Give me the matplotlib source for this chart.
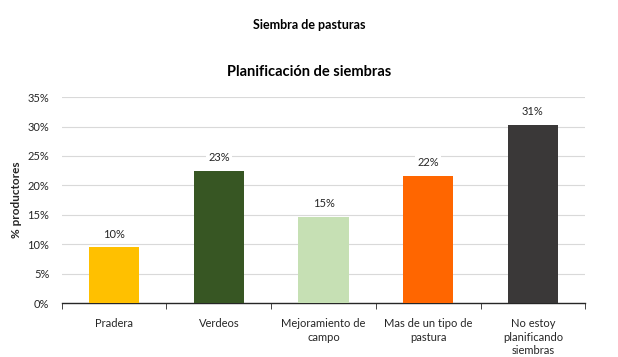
import numpy as np
import matplotlib.pyplot as plt
from matplotlib.ticker import PercentFormatter, FixedLocator

plt.rcParams['font.family'] = ['Lato', 'DejaVu Sans']

# data
categorias = ["Pradera", "Verdeos", "Mejoramiento de\ncampo",
              "Mas de un tipo de\npastura", "No estoy\nplanificando\nsiembras"]
valores = [9.5, 22.5, 14.7, 21.6, 30.3]
etiquetas = ["10%", "23%", "15%", "22%", "31%"]
colores = ["#FFC000", "#375623", "#C6E0B4", "#FF6600", "#3A3838"]

fig = plt.figure(figsize=(6.18, 3.57), dpi=100)
ax = fig.add_axes([0.100, 0.151, 0.847, 0.577])

x = np.arange(len(categorias))
bars = ax.bar(x, valores, width=0.48, color=colores, zorder=3)

for b, lab in zip(bars, etiquetas):
    ax.text(b.get_x() + b.get_width() / 2, b.get_height() + 1.3, lab,
            ha="center", va="bottom", fontsize=8, color="#262626",
            bbox=dict(facecolor="white", edgecolor="none", pad=1.5), zorder=4)

ax.set_xlim(-0.5, len(categorias) - 0.5)
ax.set_ylim(0, 35)
ax.set_yticks(np.arange(0, 36, 5))
ax.yaxis.set_major_formatter(PercentFormatter(decimals=0))
ax.grid(axis="y", color="#D9D9D9", linewidth=0.8, zorder=0)

ax.set_xticks(x)
ax.set_xticklabels(categorias, fontsize=8, color="#262626", linespacing=1.25)
ax.tick_params(axis="x", length=0, pad=11)
ax.xaxis.set_minor_locator(FixedLocator(np.arange(-0.5, len(categorias), 1)))
ax.tick_params(axis="x", which="minor", length=4, color="#262626")
ax.tick_params(axis="y", length=0, labelsize=8, labelcolor="#262626", pad=9)

for s in ["top", "right", "left"]:
    ax.spines[s].set_visible(False)
ax.spines["bottom"].set_color("#262626")
ax.spines["bottom"].set_linewidth(1)

ax.set_ylabel("% productores", fontsize=8.5, fontweight="bold", color="#262626")

fig.text(0.5, 1 - 25 / 357, "Siembra de pasturas", ha="center", va="center",
         fontsize=9, fontweight="bold", color="black")
fig.text(0.5, 1 - 72 / 357, "Planificación de siembras", ha="center", va="center",
         fontsize=10.5, fontweight="bold", color="black")

fig.savefig("out.png", dpi=100)
